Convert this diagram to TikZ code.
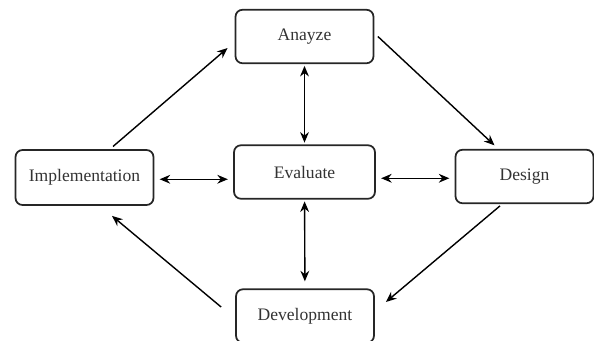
\documentclass[tikz,border=0pt]{standalone}
\usepackage{fontspec}
\setmainfont{Liberation Serif}
\usetikzlibrary{arrows,arrows.meta,calc}

\begin{document}
\begin{tikzpicture}[thick,>={Stealth[length=6pt,width=5pt]},
caja/.style ={rectangle, draw=black!85, line width=1pt, rounded corners=4pt, minimum width=2.76cm, minimum height=1.07cm, text=black!80, font=\fontsize{10}{12}\selectfont}
]
\useasboundingbox (0,0) rectangle (11.88,-6.8);
\draw (6.09,-0.73) node[caja] (ana) {Anayze};
\draw (6.09,-3.44) node[caja,minimum width=2.82cm] (eval) {Evaluate};
\draw (1.69,-3.55) node[caja,minimum height=1.1cm] (impl) {Implementation};
\draw (10.49,-3.53) node[caja] (dis) {Design};
\draw (6.10,-6.32) node[caja] (dev) {Development};
\draw[<->,shorten >=1pt,shorten <=1pt] (ana)--(eval);
\draw[<->,shorten >=4pt,shorten <=1pt] (eval)--(dev);
\draw[<->,shorten >=3pt,shorten <=3pt] ([yshift=-1pt]impl.east)--([yshift=-1pt]impl.east -| eval.west);
\draw[<->,shorten >=3pt,shorten <=3pt] ([yshift=-1pt]dis.west -| eval.east)--([yshift=-1pt]dis.west);
\draw[->] ([xshift=0.57cm,yshift=1.5pt]impl.north)--([xshift=-4pt,yshift=-0.23cm]ana.west);
\draw[->] ([xshift=2pt]ana.east)--([xshift=-0.6cm,yshift=2pt]dis.north);
\draw[->] ([xshift=-0.49cm,yshift=-1pt]dis.south)--([xshift=0.22cm,yshift=0.28cm]dev.east);
\draw[->] ([xshift=-0.28cm,yshift=0.18cm]dev.west)--([xshift=0.55cm,yshift=-0.2cm]impl.south);
\end{tikzpicture}
\end{document}
